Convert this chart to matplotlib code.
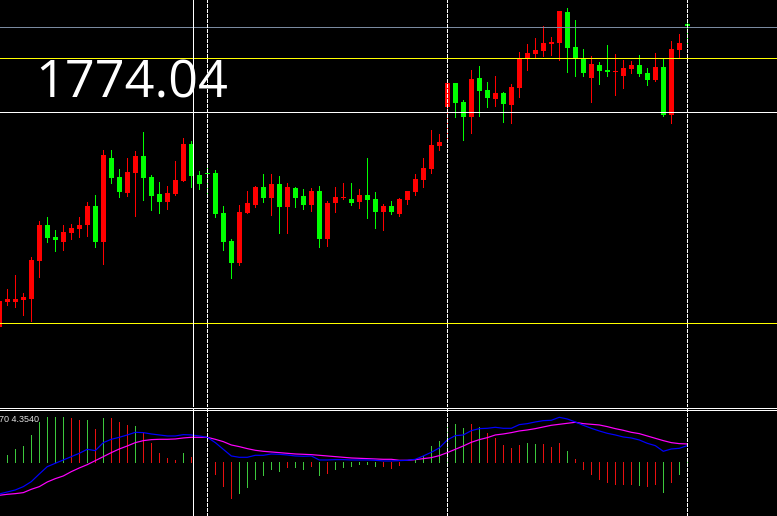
import numpy as np
import matplotlib
matplotlib.use("Agg")
import matplotlib.pyplot as plt
from matplotlib.lines import Line2D

# ---------------- data (candles k = -1 .. 85) ----------------
opens = [1744.0, 1746.5, 1746.5, 1746.7, 1746.8, 1750.6, 1754.2, 1753.0, 1752.5, 1753.4,
         1753.8, 1754.2, 1756.1, 1752.5, 1760.9, 1759.0, 1757.4, 1759.4, 1761.1, 1759.0,
         1757.3, 1756.5, 1757.3, 1758.6, 1762.3, 1759.2, 1759.4, 1759.4, 1755.4, 1752.6,
         1750.4, 1755.4, 1756.2, 1758.0, 1756.9, 1758.3, 1756.0, 1757.9, 1757.1, 1756.2,
         1757.6, 1752.8, 1756.4, 1756.9, 1756.8, 1756.5, 1757.2, 1756.8, 1755.5, 1756.1,
         1755.3, 1756.7, 1757.5, 1758.7, 1759.8, 1762.1, 1766.0, 1768.4, 1766.5, 1765.0,
         1768.9, 1767.7, 1766.8, 1767.4, 1766.2, 1767.9, 1770.9, 1771.3, 1771.6, 1772.3,
         1772.4, 1775.5, 1772.0, 1770.8, 1768.9, 1770.2, 1769.7, 1769.5, 1769.1, 1769.8,
         1770.2, 1769.4, 1768.7, 1770.0, 1765.2, 1771.7, 1774.3]
highs = [1746.8, 1747.8, 1749.2, 1747.4, 1751.0, 1754.6, 1755.0, 1753.7, 1754.2, 1754.3,
         1755.0, 1756.5, 1757.2, 1761.7, 1761.7, 1759.8, 1760.9, 1761.6, 1763.5, 1759.2,
         1758.5, 1758.1, 1760.6, 1762.9, 1762.6, 1759.6, 1760.1, 1759.7, 1756.1, 1752.8,
         1756.2, 1757.6, 1758.1, 1759.3, 1759.3, 1759.1, 1758.4, 1758.0, 1757.8, 1757.9,
         1758.1, 1756.6, 1758.0, 1758.4, 1758.4, 1757.8, 1760.9, 1757.5, 1756.3, 1756.6,
         1756.9, 1757.6, 1759.3, 1760.9, 1763.7, 1763.3, 1768.5, 1768.4, 1766.7, 1769.7,
         1770.1, 1768.5, 1769.1, 1767.5, 1768.3, 1771.5, 1772.3, 1772.9, 1774.1, 1773.0,
         1775.6, 1775.9, 1774.7, 1771.8, 1771.1, 1770.5, 1772.2, 1771.3, 1770.7, 1770.6,
         1771.2, 1769.9, 1771.4, 1770.8, 1772.6, 1773.3, 1774.6]
lows = [1743.8, 1746.2, 1746.0, 1745.2, 1744.6, 1749.0, 1752.5, 1751.6, 1751.7, 1752.8,
        1753.0, 1753.1, 1752.0, 1750.3, 1758.4, 1757.0, 1757.1, 1755.1, 1756.7, 1755.7,
        1755.4, 1755.8, 1757.2, 1758.6, 1758.0, 1757.8, 1757.1, 1755.0, 1751.7, 1748.9,
        1750.2, 1755.4, 1756.0, 1756.5, 1755.2, 1753.4, 1753.4, 1756.0, 1755.8, 1755.6,
        1752.0, 1752.1, 1755.5, 1756.8, 1756.2, 1755.9, 1754.9, 1753.9, 1753.7, 1755.3,
        1755.1, 1756.3, 1757.2, 1758.0, 1759.4, 1761.7, 1762.9, 1765.0, 1762.7, 1763.4,
        1765.1, 1766.0, 1766.1, 1764.5, 1764.4, 1767.0, 1769.7, 1770.9, 1771.1, 1771.2,
        1770.7, 1769.5, 1769.1, 1769.1, 1766.5, 1768.3, 1769.1, 1767.2, 1767.9, 1769.4,
        1769.1, 1768.2, 1768.6, 1765.1, 1764.4, 1771.0, 1772.1]
closes = [1746.6, 1746.8, 1746.8, 1747.0, 1750.7, 1754.2, 1752.9, 1752.7, 1753.5, 1753.9,
          1754.2, 1756.1, 1752.5, 1761.2, 1758.9, 1757.5, 1759.5, 1761.1, 1758.9, 1757.1,
          1756.5, 1757.4, 1758.7, 1762.3, 1759.1, 1758.3, 1759.3, 1755.3, 1752.5, 1750.4,
          1755.5, 1756.4, 1758.0, 1756.9, 1758.3, 1756.0, 1758.0, 1756.9, 1756.2, 1757.6,
          1752.8, 1756.4, 1757.0, 1757.0, 1756.4, 1757.2, 1756.7, 1755.5, 1756.1, 1755.5,
          1756.8, 1757.6, 1758.8, 1759.9, 1762.2, 1762.5, 1768.4, 1766.4, 1765.0, 1768.8,
          1767.6, 1766.9, 1767.4, 1766.3, 1768.0, 1770.8, 1771.4, 1771.7, 1772.4, 1772.5,
          1775.6, 1771.9, 1770.9, 1769.4, 1770.3, 1769.6, 1769.5, 1769.6, 1769.9, 1770.2,
          1769.3, 1768.7, 1770.0, 1765.2, 1771.8, 1772.4, 1774.1]

macd_hist = [0.8, 1.76, 3.2, 3.92, 6.56, 9.68, 10.88, 10.88, 10.88, 10.64,
             10.16, 10.16, 8.0, 10.64, 10.64, 9.68, 8.96, 8.72, 7.04, 4.64,
             2.24, 1.04, 0.56, 2.24, 1.28, 0.08, 0.05, -2.8, -5.68, -8.56,
             -7.36, -5.92, -4.0, -3.04, -1.6, -2.08, -1.12, -1.12, -1.6, -0.88,
             -3.04, -2.56, -1.6, -1.12, -0.88, -0.48, -0.4, -0.88, -0.88, -1.36,
             -0.64, 0.0, 0.56, 1.52, 3.92, 5.12, 8.72, 9.2, 8.24, 9.2,
             8.48, 7.04, 5.84, 4.16, 3.44, 4.16, 4.64, 4.4, 4.4, 3.68,
             4.64, 2.72, 0.8, -1.6, -2.8, -4.0, -4.72, -5.2, -5.2, -5.2,
             -5.44, -5.68, -5.2, -7.12, -4.72, -2.8, -0.64]
hist_dir = ("gggggggggr" "rgrgrrrgrr" "rrrgrrrrrr" "ggggggrggr" "grggggggrr"
            "rggggggggr" "grrrrrggrr" "rgrrrrrrrr" "grrgrggg")
macd_line = [-7.6, -7.12, -6.64, -5.84, -4.64, -2.8, -1.04, -0.24, 0.56, 1.36,
             2.16, 3.12, 2.8, 4.72, 5.52, 6.0, 6.56, 7.2, 7.12, 6.8,
             6.56, 6.32, 6.32, 6.64, 6.56, 6.32, 6.0, 4.72, 3.12, 1.52,
             1.2, 1.2, 1.68, 1.68, 2.0, 1.92, 1.76, 1.52, 1.44, 1.52,
             0.56, 0.56, 0.64, 0.64, 0.56, 0.56, 0.56, 0.48, 0.32, 0.32,
             0.4, 0.48, 0.72, 1.52, 2.4, 3.44, 5.36, 6.4, 6.56, 7.6,
             8.08, 8.16, 8.4, 8.16, 8.16, 9.04, 9.28, 9.68, 10.0, 10.08,
             10.8, 10.4, 9.68, 8.88, 8.16, 7.52, 6.96, 6.56, 6.08, 5.84,
             5.36, 4.56, 4.0, 2.64, 3.2, 3.36, 4.0]
signal_line = [-7.92, -7.68, -7.52, -7.28, -6.48, -5.84, -4.72, -3.92, -3.28, -2.24,
               -1.36, -0.56, 0.4, 1.36, 2.32, 3.2, 3.92, 4.72, 5.2, 5.44,
               5.52, 5.52, 5.6, 5.84, 6.0, 6.0, 6.0, 5.52, 4.96, 4.16,
               3.76, 3.28, 2.88, 2.64, 2.48, 2.32, 2.16, 2.0, 1.92, 1.84,
               1.68, 1.52, 1.36, 1.2, 1.04, 0.96, 0.88, 0.8, 0.72, 0.72,
               0.48, 0.48, 0.64, 0.88, 1.12, 1.6, 2.32, 3.12, 3.92, 4.8,
               5.44, 5.92, 6.56, 6.8, 7.12, 7.52, 7.76, 8.08, 8.48, 8.88,
               9.12, 9.36, 9.6, 9.28, 9.12, 8.96, 8.56, 8.08, 7.68, 7.2,
               6.88, 6.32, 5.76, 5.2, 4.72, 4.48, 4.4]

hlines_gray = [1774.04]
hlines_yellow = [1770.87, 1744.37]
hlines_white = [1765.47]
vline_solid = [23.25]
vlines_dashed = [25, 55, 85]
price_label = "1774.04"
macd_label = "70 4.3540"

# ---------------- figure ----------------
W, H = 777, 516
fig = plt.figure(figsize=(W / 100, H / 100), dpi=100, facecolor="black")
PX = 0.72  # one pixel in points

main_bottom_px = 407.3
sub_top_px = 409.3
ax = fig.add_axes([0, 1 - main_bottom_px / H, 1, main_bottom_px / H])
ax2 = fig.add_axes([0, 0, 1, 1 - sub_top_px / H])
for a in (ax, ax2):
    a.set_facecolor("black")
    a.set_axis_off()
    a.set_xlim(-0.9125, 96.2125)

ax.set_ylim(1735.97, 1776.7)
ax2.set_ylim(-12.888, 12.72)

x = np.arange(-1, len(opens) - 1)
o = np.array(opens); h = np.array(highs); l = np.array(lows); c = np.array(closes)
up = c >= o
ccol = np.where(up, "#ff0000", "#00ff00")

ax.vlines(x, l, h, colors=ccol, lw=PX, antialiased=False, zorder=2)
bottom = np.minimum(o, c)
height = np.maximum(np.abs(c - o), 0.1)
ax.bar(x, height, bottom=bottom, width=0.625, color=ccol, linewidth=0,
       antialiased=False, zorder=3)

for yv in hlines_gray:
    ax.axhline(yv, color="#7a8aa0", lw=PX, antialiased=False, zorder=4)
for yv in hlines_yellow:
    ax.axhline(yv, color="#ffff00", lw=PX, antialiased=False, zorder=4)
for yv in hlines_white:
    ax.axhline(yv, color="white", lw=PX, antialiased=False, zorder=4)

for a in (ax, ax2):
    for xv in vline_solid:
        a.axvline(xv, color="white", lw=PX, antialiased=False, zorder=5)
    for xv in vlines_dashed:
        a.axvline(xv, color="white", lw=PX, dashes=(4, 2), antialiased=False, zorder=5)

hcol = ["#3cc83c" if d == "g" else "#e81010" for d in hist_dir]
ax2.vlines(x, 0, macd_hist, colors=hcol, lw=PX, antialiased=False, zorder=2)
ax2.plot(x, signal_line, color="#ff00ff", lw=PX * 1.2, zorder=3)
ax2.plot(x, macd_line, color="#0000ff", lw=PX * 1.2, zorder=4)

# separator lines
for ypx in (407.5, 409.5):
    fig.add_artist(Line2D([0, 1], [1 - ypx / H, 1 - ypx / H], transform=fig.transFigure,
                          color="white", lw=PX, antialiased=False))

fig.text(35 / W, 1 - 97 / H, price_label, color="white", fontsize=37.5,
         family="Open Sans", weight="medium", va="baseline", ha="left")
fig.text(-1 / W, 1 - 421.7 / H, macd_label, color="#e0e0e0", fontsize=6.5,
         family="Liberation Sans", va="baseline", ha="left")

fig.savefig("out.png", dpi=100, facecolor="black")
